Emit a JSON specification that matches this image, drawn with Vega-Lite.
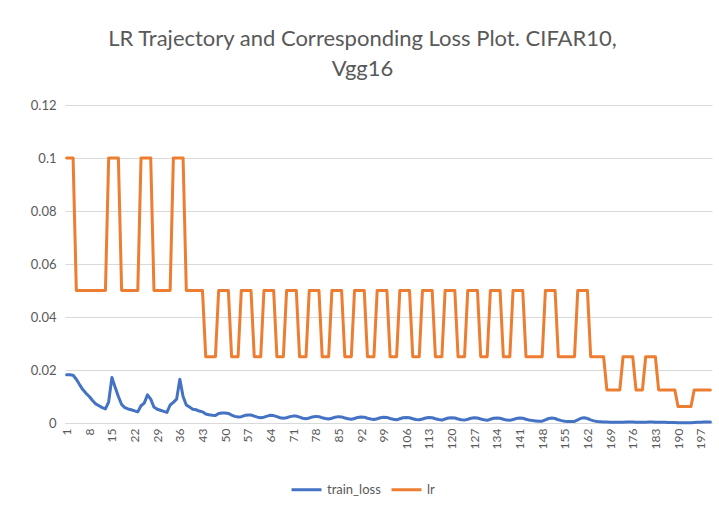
{
"$schema": "https://vega.github.io/schema/vega-lite/v6.json",
"autosize": "none",
"width": 647,
"height": 318,
"padding": {"left": 65, "top": 105, "right": 7, "bottom": 95},
"background": "white",
"config": {"view": {"stroke": null}, "font": "Lato"},
"title": {"text": ["LR Trajectory and Corresponding Loss Plot. CIFAR10,", "Vgg16"], "fontSize": 22, "font": "Lato", "fontWeight": "normal", "color": "#595959", "anchor": "middle", "dx": -26, "offset": 18, "lineHeight": 30},
"data": {"values": [
{"epoch":1,"train_loss":0.0182,"lr":0.1},{"epoch":2,"train_loss":0.0182,"lr":0.1},{"epoch":3,"train_loss":0.0180,"lr":0.1},{"epoch":4,"train_loss":0.0165,"lr":0.05},{"epoch":5,"train_loss":0.0145,"lr":0.05},
{"epoch":6,"train_loss":0.0126,"lr":0.05},{"epoch":7,"train_loss":0.0112,"lr":0.05},{"epoch":8,"train_loss":0.0100,"lr":0.05},{"epoch":9,"train_loss":0.0085,"lr":0.05},{"epoch":10,"train_loss":0.0072,"lr":0.05},
{"epoch":11,"train_loss":0.0065,"lr":0.05},{"epoch":12,"train_loss":0.0058,"lr":0.05},{"epoch":13,"train_loss":0.0053,"lr":0.05},{"epoch":14,"train_loss":0.0080,"lr":0.1},{"epoch":15,"train_loss":0.0172,"lr":0.1},
{"epoch":16,"train_loss":0.0135,"lr":0.1},{"epoch":17,"train_loss":0.0100,"lr":0.1},{"epoch":18,"train_loss":0.0070,"lr":0.05},{"epoch":19,"train_loss":0.0058,"lr":0.05},{"epoch":20,"train_loss":0.0053,"lr":0.05},
{"epoch":21,"train_loss":0.0050,"lr":0.05},{"epoch":22,"train_loss":0.0046,"lr":0.05},{"epoch":23,"train_loss":0.0042,"lr":0.05},{"epoch":24,"train_loss":0.0065,"lr":0.1},{"epoch":25,"train_loss":0.0075,"lr":0.1},
{"epoch":26,"train_loss":0.0106,"lr":0.1},{"epoch":27,"train_loss":0.0090,"lr":0.1},{"epoch":28,"train_loss":0.0060,"lr":0.05},{"epoch":29,"train_loss":0.0052,"lr":0.05},{"epoch":30,"train_loss":0.0048,"lr":0.05},
{"epoch":31,"train_loss":0.0044,"lr":0.05},{"epoch":32,"train_loss":0.0040,"lr":0.05},{"epoch":33,"train_loss":0.0068,"lr":0.05},{"epoch":34,"train_loss":0.0078,"lr":0.1},{"epoch":35,"train_loss":0.0090,"lr":0.1},
{"epoch":36,"train_loss":0.0165,"lr":0.1},{"epoch":37,"train_loss":0.0100,"lr":0.1},{"epoch":38,"train_loss":0.0068,"lr":0.05},{"epoch":39,"train_loss":0.0060,"lr":0.05},{"epoch":40,"train_loss":0.0052,"lr":0.05},
{"epoch":41,"train_loss":0.0050,"lr":0.05},{"epoch":42,"train_loss":0.0045,"lr":0.05},{"epoch":43,"train_loss":0.0042,"lr":0.05},{"epoch":44,"train_loss":0.0034,"lr":0.025},{"epoch":45,"train_loss":0.0031,"lr":0.025},
{"epoch":46,"train_loss":0.0029,"lr":0.025},{"epoch":47,"train_loss":0.0028,"lr":0.025},{"epoch":48,"train_loss":0.0036,"lr":0.05},{"epoch":49,"train_loss":0.0038,"lr":0.05},{"epoch":50,"train_loss":0.0038,"lr":0.05},
{"epoch":51,"train_loss":0.0036,"lr":0.05},{"epoch":52,"train_loss":0.0030,"lr":0.025},{"epoch":53,"train_loss":0.0025,"lr":0.025},{"epoch":54,"train_loss":0.0023,"lr":0.025},{"epoch":55,"train_loss":0.0024,"lr":0.05},
{"epoch":56,"train_loss":0.0028,"lr":0.05},{"epoch":57,"train_loss":0.0030,"lr":0.05},{"epoch":58,"train_loss":0.0030,"lr":0.05},{"epoch":59,"train_loss":0.0026,"lr":0.025},{"epoch":60,"train_loss":0.0022,"lr":0.025},
{"epoch":61,"train_loss":0.0020,"lr":0.025},{"epoch":62,"train_loss":0.0022,"lr":0.05},{"epoch":63,"train_loss":0.0026,"lr":0.05},{"epoch":64,"train_loss":0.0029,"lr":0.05},{"epoch":65,"train_loss":0.0028,"lr":0.05},
{"epoch":66,"train_loss":0.0024,"lr":0.025},{"epoch":67,"train_loss":0.0020,"lr":0.025},{"epoch":68,"train_loss":0.0018,"lr":0.025},{"epoch":69,"train_loss":0.0020,"lr":0.05},{"epoch":70,"train_loss":0.0024,"lr":0.05},
{"epoch":71,"train_loss":0.0026,"lr":0.05},{"epoch":72,"train_loss":0.0026,"lr":0.05},{"epoch":73,"train_loss":0.0022,"lr":0.025},{"epoch":74,"train_loss":0.0018,"lr":0.025},{"epoch":75,"train_loss":0.0016,"lr":0.025},
{"epoch":76,"train_loss":0.0019,"lr":0.05},{"epoch":77,"train_loss":0.0023,"lr":0.05},{"epoch":78,"train_loss":0.0025,"lr":0.05},{"epoch":79,"train_loss":0.0024,"lr":0.05},{"epoch":80,"train_loss":0.0020,"lr":0.025},
{"epoch":81,"train_loss":0.0017,"lr":0.025},{"epoch":82,"train_loss":0.0015,"lr":0.025},{"epoch":83,"train_loss":0.0018,"lr":0.05},{"epoch":84,"train_loss":0.0022,"lr":0.05},{"epoch":85,"train_loss":0.0024,"lr":0.05},
{"epoch":86,"train_loss":0.0023,"lr":0.05},{"epoch":87,"train_loss":0.0019,"lr":0.025},{"epoch":88,"train_loss":0.0016,"lr":0.025},{"epoch":89,"train_loss":0.0014,"lr":0.025},{"epoch":90,"train_loss":0.0017,"lr":0.05},
{"epoch":91,"train_loss":0.0021,"lr":0.05},{"epoch":92,"train_loss":0.0023,"lr":0.05},{"epoch":93,"train_loss":0.0022,"lr":0.05},{"epoch":94,"train_loss":0.0018,"lr":0.025},{"epoch":95,"train_loss":0.0015,"lr":0.025},
{"epoch":96,"train_loss":0.0013,"lr":0.025},{"epoch":97,"train_loss":0.0016,"lr":0.05},{"epoch":98,"train_loss":0.0020,"lr":0.05},{"epoch":99,"train_loss":0.0022,"lr":0.05},{"epoch":100,"train_loss":0.0021,"lr":0.05},
{"epoch":101,"train_loss":0.0017,"lr":0.025},{"epoch":102,"train_loss":0.0014,"lr":0.025},{"epoch":103,"train_loss":0.0012,"lr":0.025},{"epoch":104,"train_loss":0.0016,"lr":0.05},{"epoch":105,"train_loss":0.0020,"lr":0.05},
{"epoch":106,"train_loss":0.0021,"lr":0.05},{"epoch":107,"train_loss":0.0020,"lr":0.05},{"epoch":108,"train_loss":0.0016,"lr":0.025},{"epoch":109,"train_loss":0.0013,"lr":0.025},{"epoch":110,"train_loss":0.0012,"lr":0.025},
{"epoch":111,"train_loss":0.0015,"lr":0.05},{"epoch":112,"train_loss":0.0019,"lr":0.05},{"epoch":113,"train_loss":0.0021,"lr":0.05},{"epoch":114,"train_loss":0.0020,"lr":0.05},{"epoch":115,"train_loss":0.0016,"lr":0.025},
{"epoch":116,"train_loss":0.0013,"lr":0.025},{"epoch":117,"train_loss":0.0011,"lr":0.025},{"epoch":118,"train_loss":0.0015,"lr":0.05},{"epoch":119,"train_loss":0.0019,"lr":0.05},{"epoch":120,"train_loss":0.0020,"lr":0.05},
{"epoch":121,"train_loss":0.0019,"lr":0.05},{"epoch":122,"train_loss":0.0015,"lr":0.025},{"epoch":123,"train_loss":0.0012,"lr":0.025},{"epoch":124,"train_loss":0.0011,"lr":0.025},{"epoch":125,"train_loss":0.0014,"lr":0.05},
{"epoch":126,"train_loss":0.0018,"lr":0.05},{"epoch":127,"train_loss":0.0020,"lr":0.05},{"epoch":128,"train_loss":0.0019,"lr":0.05},{"epoch":129,"train_loss":0.0015,"lr":0.025},{"epoch":130,"train_loss":0.0012,"lr":0.025},
{"epoch":131,"train_loss":0.0010,"lr":0.025},{"epoch":132,"train_loss":0.0014,"lr":0.05},{"epoch":133,"train_loss":0.0018,"lr":0.05},{"epoch":134,"train_loss":0.0019,"lr":0.05},{"epoch":135,"train_loss":0.0018,"lr":0.05},
{"epoch":136,"train_loss":0.0014,"lr":0.025},{"epoch":137,"train_loss":0.0011,"lr":0.025},{"epoch":138,"train_loss":0.0010,"lr":0.025},{"epoch":139,"train_loss":0.0013,"lr":0.05},{"epoch":140,"train_loss":0.0017,"lr":0.05},
{"epoch":141,"train_loss":0.0019,"lr":0.05},{"epoch":142,"train_loss":0.0018,"lr":0.05},{"epoch":143,"train_loss":0.0014,"lr":0.025},{"epoch":144,"train_loss":0.0011,"lr":0.025},{"epoch":145,"train_loss":0.0009,"lr":0.025},
{"epoch":146,"train_loss":0.0008,"lr":0.025},{"epoch":147,"train_loss":0.0007,"lr":0.025},{"epoch":148,"train_loss":0.0007,"lr":0.025},{"epoch":149,"train_loss":0.0012,"lr":0.05},{"epoch":150,"train_loss":0.0017,"lr":0.05},
{"epoch":151,"train_loss":0.0019,"lr":0.05},{"epoch":152,"train_loss":0.0017,"lr":0.05},{"epoch":153,"train_loss":0.0012,"lr":0.025},{"epoch":154,"train_loss":0.0009,"lr":0.025},{"epoch":155,"train_loss":0.0007,"lr":0.025},
{"epoch":156,"train_loss":0.0006,"lr":0.025},{"epoch":157,"train_loss":0.0006,"lr":0.025},{"epoch":158,"train_loss":0.0006,"lr":0.025},{"epoch":159,"train_loss":0.0012,"lr":0.05},{"epoch":160,"train_loss":0.0018,"lr":0.05},
{"epoch":161,"train_loss":0.0020,"lr":0.05},{"epoch":162,"train_loss":0.0017,"lr":0.05},{"epoch":163,"train_loss":0.0012,"lr":0.025},{"epoch":164,"train_loss":0.0008,"lr":0.025},{"epoch":165,"train_loss":0.0006,"lr":0.025},
{"epoch":166,"train_loss":0.0005,"lr":0.025},{"epoch":167,"train_loss":0.0004,"lr":0.025},{"epoch":168,"train_loss":0.0004,"lr":0.0125},{"epoch":169,"train_loss":0.0003,"lr":0.0125},{"epoch":170,"train_loss":0.0003,"lr":0.0125},
{"epoch":171,"train_loss":0.0003,"lr":0.0125},{"epoch":172,"train_loss":0.0003,"lr":0.0125},{"epoch":173,"train_loss":0.0003,"lr":0.025},{"epoch":174,"train_loss":0.0004,"lr":0.025},{"epoch":175,"train_loss":0.0004,"lr":0.025},
{"epoch":176,"train_loss":0.0004,"lr":0.025},{"epoch":177,"train_loss":0.0003,"lr":0.0125},{"epoch":178,"train_loss":0.0003,"lr":0.0125},{"epoch":179,"train_loss":0.0003,"lr":0.0125},{"epoch":180,"train_loss":0.0003,"lr":0.025},
{"epoch":181,"train_loss":0.0004,"lr":0.025},{"epoch":182,"train_loss":0.0004,"lr":0.025},{"epoch":183,"train_loss":0.0003,"lr":0.025},{"epoch":184,"train_loss":0.0003,"lr":0.0125},{"epoch":185,"train_loss":0.0003,"lr":0.0125},
{"epoch":186,"train_loss":0.0003,"lr":0.0125},{"epoch":187,"train_loss":0.0002,"lr":0.0125},{"epoch":188,"train_loss":0.0002,"lr":0.0125},{"epoch":189,"train_loss":0.0002,"lr":0.0125},{"epoch":190,"train_loss":0.0001,"lr":0.00625},
{"epoch":191,"train_loss":0.0001,"lr":0.00625},{"epoch":192,"train_loss":0.0001,"lr":0.00625},{"epoch":193,"train_loss":0.0001,"lr":0.00625},{"epoch":194,"train_loss":0.0001,"lr":0.00625},{"epoch":195,"train_loss":0.0002,"lr":0.0125},
{"epoch":196,"train_loss":0.0003,"lr":0.0125},{"epoch":197,"train_loss":0.0003,"lr":0.0125},{"epoch":198,"train_loss":0.0004,"lr":0.0125},{"epoch":199,"train_loss":0.0004,"lr":0.0125},{"epoch":200,"train_loss":0.0004,"lr":0.0125}
]},
"transform": [{"fold": ["train_loss", "lr"], "as": ["series", "value"]}],
"mark": {"type": "line", "strokeWidth": 3, "strokeJoin": "round", "strokeCap": "round"},
"encoding": {
  "x": {"field": "epoch", "type": "ordinal", "scale": {"type": "point", "padding": 0.5},
    "axis": {"values": [1,8,15,22,29,36,43,50,57,64,71,78,85,92,99,106,113,120,127,134,141,148,155,162,169,176,183,190,197],
      "labelAngle": -90, "ticks": false, "domain": true, "domainColor": "#D9D9D9", "grid": false, "title": null,
      "labelFontSize": 12, "labelColor": "#595959", "labelPadding": 5, "labelFont": "Lato"}},
  "y": {"field": "value", "type": "quantitative", "scale": {"domain": [0, 0.12]},
    "axis": {"values": [0,0.02,0.04,0.06,0.08,0.1,0.12], "format": ".2~f", "grid": true, "gridColor": "#D9D9D9",
      "domain": false, "ticks": false, "title": null, "labelFontSize": 13, "labelColor": "#595959", "labelPadding": 9, "labelFont": "Lato"}},
  "color": {"field": "series", "type": "nominal", "sort": ["train_loss", "lr"],
    "scale": {"domain": ["train_loss", "lr"], "range": ["#4472C4", "#ED7D31"]},
    "legend": {"title": null, "orient": "none", "legendX": 225, "legendY": 368, "direction": "horizontal",
      "symbolType": "stroke", "symbolStrokeWidth": 3, "symbolSize": 900, "labelFontSize": 13, "labelColor": "#595959",
      "labelFont": "Lato", "columnPadding": 4}}
}
}
